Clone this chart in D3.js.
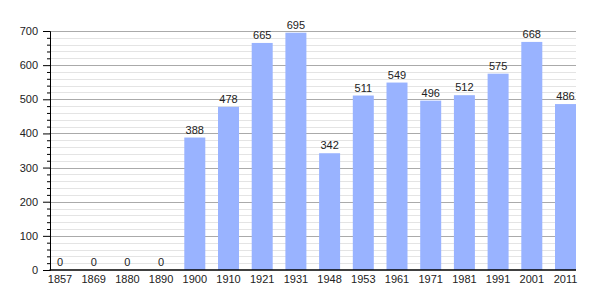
<!DOCTYPE html>
<html>
<head>
<meta charset="utf-8">
<script src="https://cdn.jsdelivr.net/npm/d3@7"></script>
<style>
  html, body { margin: 0; background: #fff; overflow: hidden; }
  svg { display: block; }
  text { font-family: "Liberation Sans", Arial, sans-serif; font-size: 11px; fill: #222; }
</style>
</head>
<body>
<div id="chart"></div>
<script>
var years = ["1857", "1869", "1880", "1890", "1900", "1910", "1921", "1931", "1948", "1953", "1961", "1971", "1981", "1991", "2001", "2011"];
var population = [0, 0, 0, 0, 388, 478, 665, 695, 342, 511, 549, 496, 512, 575, 668, 486];
var yTicks = [0, 100, 200, 300, 400, 500, 600, 700];

var w = 605;
var h = 300;
var plotLeft = 49.5, plotRight = 576, plotTop = 31, plotBottom = 270;

var svg = d3.select("#chart")
  .append("svg")
  .attr("width", w)
  .attr("height", h);

var xScale = d3.scaleBand()
  .domain(years)
  .range([plotLeft, plotRight])
  .paddingInner(0.377)
  .paddingOuter(0)
  .align(0);

var yScale = d3.scaleLinear()
  .domain([0, 700])
  .range([plotBottom, plotTop]);

// minor grid every 20
var minor = d3.range(0, 701, 20).filter(function(d){ return d % 100 !== 0; });
svg.append("g").selectAll("line")
  .data(minor)
  .enter()
  .append("line")
  .attr("x1", plotLeft).attr("x2", plotRight)
  .attr("y1", function(d){ return Math.round(yScale(d)) + 0.5; })
  .attr("y2", function(d){ return Math.round(yScale(d)) + 0.5; })
  .attr("stroke", "#e4e4e4");

// major grid
svg.append("g").selectAll("line")
  .data(yTicks.slice(1))
  .enter()
  .append("line")
  .attr("x1", plotLeft).attr("x2", plotRight)
  .attr("y1", function(d){ return Math.round(yScale(d)) + 0.5; })
  .attr("y2", function(d){ return Math.round(yScale(d)) + 0.5; })
  .attr("stroke", "#aaaaaa");

// bars
svg.selectAll("rect.bar")
  .data(population)
  .enter()
  .append("rect")
  .attr("class", "bar")
  .attr("x", function(d, i){ return xScale(years[i]); })
  .attr("y", function(d){ return yScale(d); })
  .attr("width", xScale.bandwidth())
  .attr("height", function(d){ return plotBottom - yScale(d); })
  .attr("fill", "#99b3ff");

// value labels
svg.selectAll("text.val")
  .data(population)
  .enter()
  .append("text")
  .attr("class", "val")
  .attr("text-anchor", "middle")
  .attr("x", function(d, i){ return xScale(years[i]) + xScale.bandwidth() / 2; })
  .attr("y", function(d){ return yScale(d) - 4; })
  .text(function(d){ return d; });

// y axis with minor ticks
var yAxis = d3.axisLeft(yScale).tickValues(yTicks).tickSize(7).tickPadding(5);
var gy = svg.append("g").attr("transform", "translate(" + (plotLeft + 0.5) + ",0)").call(yAxis);
gy.select(".domain").attr("stroke", "#000");
gy.selectAll("text").style("font-size", "11px").attr("fill", "#222");

var yMinor = d3.axisLeft(yScale).tickValues(minor).tickSize(3).tickFormat("");
var gm = svg.append("g").attr("transform", "translate(" + (plotLeft + 0.5) + ",0)").call(yMinor);
gm.select(".domain").remove();

// x axis
var xAxis = d3.axisBottom(xScale).tickSize(0).tickPadding(5);
var gx = svg.append("g").attr("transform", "translate(0," + plotBottom + ")").call(xAxis);
gx.select(".domain").attr("stroke", "#000").attr("stroke-width", 1.5)
  .attr("d", "M" + plotLeft + ",0H" + plotRight);
gx.selectAll("text").style("font-size", "11px").attr("fill", "#222");
</script>
</body>
</html>
